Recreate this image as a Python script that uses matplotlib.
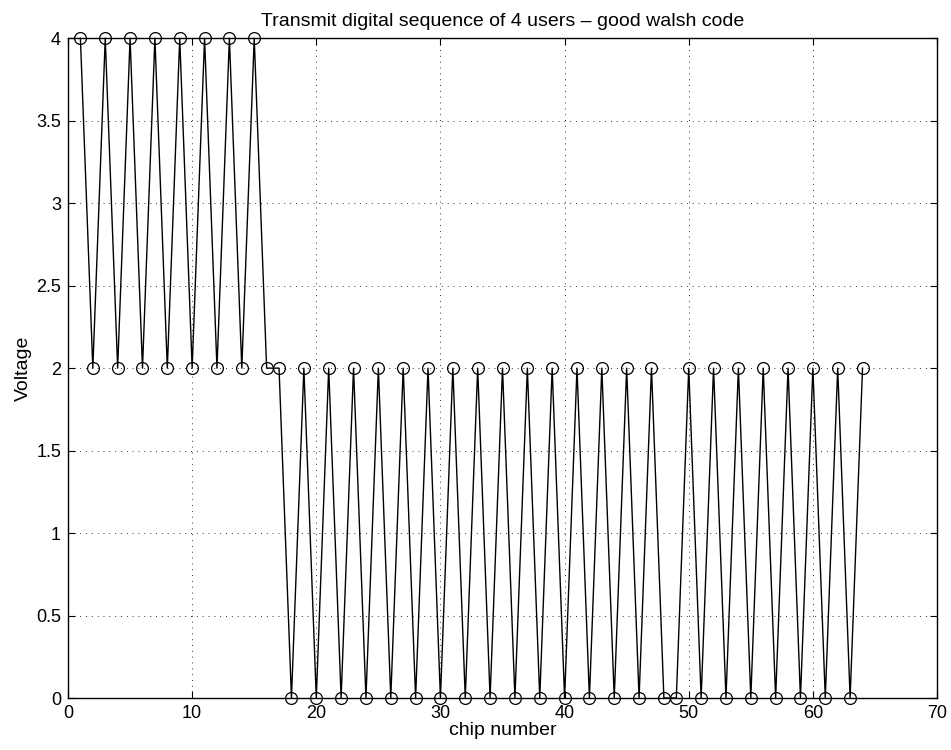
import matplotlib
matplotlib.use("Agg")
import matplotlib.pyplot as plt
import numpy as np

plt.rcParams["font.family"] = ["Liberation Sans", "DejaVu Sans"]

chip = np.arange(1, 65)
voltage = [
    4, 2, 4, 2, 4, 2, 4, 2, 4, 2, 4, 2, 4, 2, 4, 2,
    2, 0, 2, 0, 2, 0, 2, 0, 2, 0, 2, 0, 2, 0, 2, 0,
    2, 0, 2, 0, 2, 0, 2, 0, 2, 0, 2, 0, 2, 0, 2, 0,
    0, 2, 0, 2, 0, 2, 0, 2, 0, 2, 0, 2, 0, 2, 0, 2,
]
x_ticks = np.arange(0, 71, 10)
y_ticks = np.arange(0, 4.01, 0.5)
y_tick_labels = ["0", "0.5", "1", "1.5", "2", "2.5", "3", "3.5", "4"]

fig = plt.figure(figsize=(9.51, 7.5), dpi=100)
ax = fig.add_axes([0.0715, 0.0693, 0.9138, 0.8797])

ax.plot(chip, voltage, color="black", linewidth=1.0, marker="o",
        markersize=8.5, markerfacecolor="none", markeredgecolor="black",
        markeredgewidth=0.9, clip_on=False, zorder=3)

ax.set_xlim(0, 70)
ax.set_ylim(0, 4)
ax.set_xticks(x_ticks)
ax.set_yticks(y_ticks)
ax.set_yticklabels(y_tick_labels)
ax.tick_params(direction="in", top=True, right=True, length=5,
               labelsize=13, width=0.8, pad=5)
ax.grid(True, linestyle=(0, (1, 5)), color="black", linewidth=0.7, alpha=0.8)
for s in ax.spines.values():
    s.set_linewidth(1.0)

ax.set_title("Transmit digital sequence of 4 users \u2013 good walsh code",
             fontsize=14, pad=9)
ax.set_xlabel("chip number", fontsize=14, labelpad=0)
ax.set_ylabel("Voltage", fontsize=14, labelpad=3)

fig.savefig("out.png", dpi=100, facecolor="white")
